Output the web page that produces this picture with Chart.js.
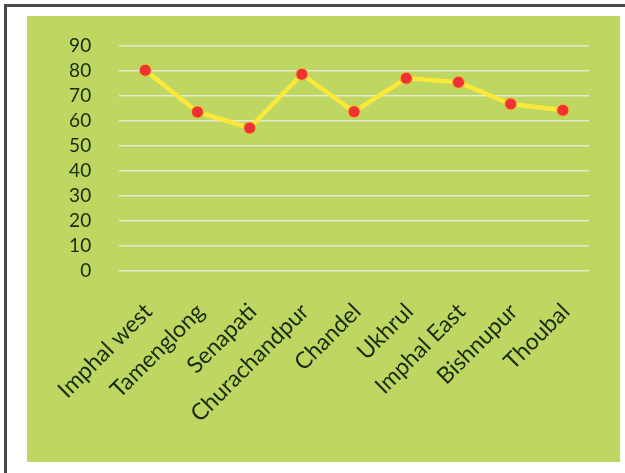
<!DOCTYPE html>
<html>
<head>
<meta charset="utf-8">
<script src="https://cdn.jsdelivr.net/npm/chart.js@4"></script>
<style>
  html, body { margin:0; padding:0; background:#fff; }
  body { width:625px; height:473px; position:relative; overflow:hidden; }
  #frame { position:absolute; left:4px; top:4px; width:630px; height:466px;
           border-top:3px solid #4a4a4a; border-left:3px solid #4a4a4a; border-bottom:1px solid #d0d0d0; }
  #plot { position:absolute; left:27px; top:16px; width:593px; height:446px; background:#bdd762; }
</style>
</head>
<body>
<div id="frame"></div>
<div id="plot"><canvas id="c" width="593" height="446"></canvas></div>
<script>
// values
const districts = ['Imphal west','Tamenglong','Senapati','Churachandpur','Chandel','Ukhrul','Imphal East','Bishnupur','Thoubal'];
const values = [80.3, 63.6, 57.2, 78.7, 63.7, 77.1, 75.5, 66.8, 64.3];
const yMin = 0, yMax = 90, yStep = 10;

const ctx = document.getElementById('c').getContext('2d');
new Chart(ctx, {
  type: 'line',
  data: {
    labels: districts,
    datasets: [{
      data: values,
      borderColor: '#fbe83a',
      borderWidth: 4.5,
      tension: 0,
      pointRadius: 6,
      pointBackgroundColor: '#ee3236',
      pointBorderColor: '#f6b82e',
      pointBorderWidth: 1
    }]
  },
  options: {
    responsive: false,
    animation: false,
    layout: { padding: { left: 0, top: 30, right: 31, bottom: 0 } },
    plugins: { legend: { display: false }, tooltip: { enabled: false } },
    scales: {
      x: {
        offset: true,
        grid: { display: false, drawTicks: false },
        border: { display: false },
        afterFit: s => { s.height = 191; },
        ticks: {
          autoSkip: false,
          minRotation: 45, maxRotation: 45,
          padding: 27,
          labelOffset: 3,
          color: '#1c2a12',
          font: { family: 'Lato', size: 23 }
        }
      },
      y: {
        min: yMin, max: yMax,
        grid: { color: '#e6ead0', lineWidth: 1.6, drawTicks: false },
        border: { display: false },
        // tick padding would otherwise be added above the plot
        afterFit: s => { s.width = 91; s.paddingTop = 0; s.paddingBottom = 0; },
        ticks: {
          stepSize: yStep,
          autoSkip: false,
          padding: 28,
          color: '#1c2a12',
          font: { family: 'Lato', size: 19 }
        }
      }
    }
  }
});
</script>
</body>
</html>
